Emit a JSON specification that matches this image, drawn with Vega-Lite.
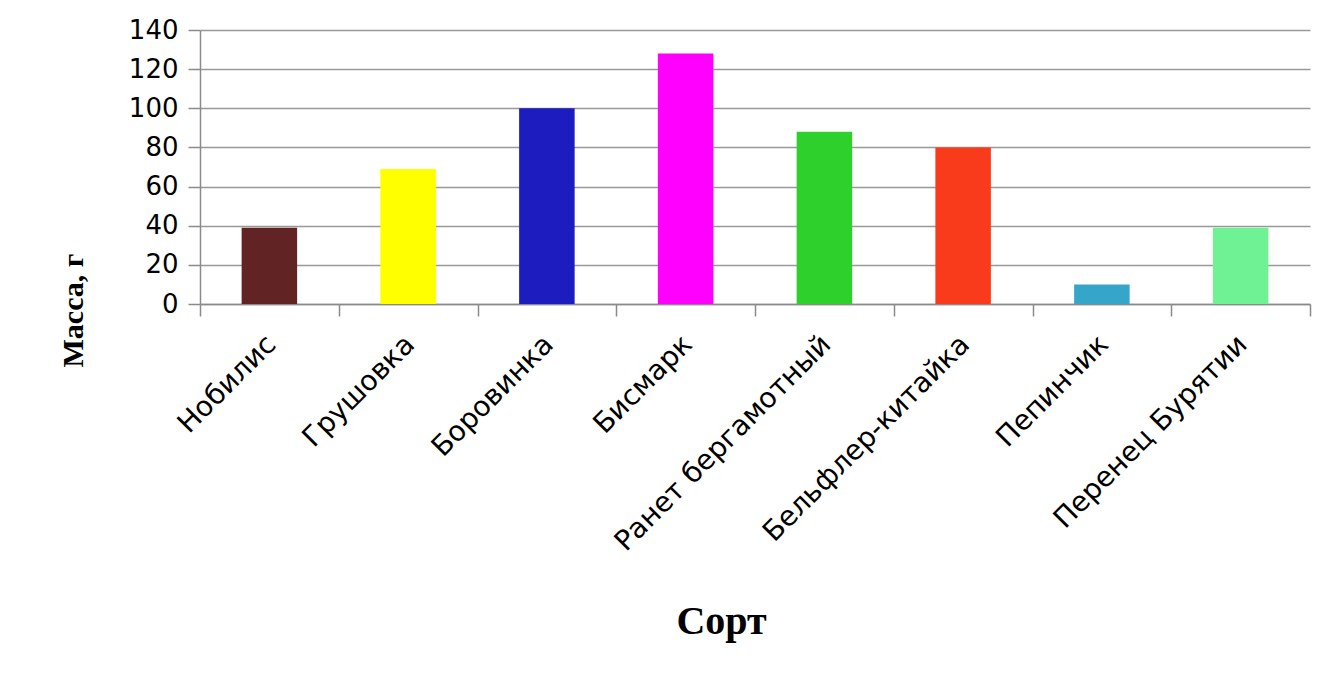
{
  "$schema": "https://vega.github.io/schema/vega-lite/v6.json",
  "width": 1110,
  "height": 274,
  "autosize": {"type": "none"},
  "padding": {"left": 200, "top": 30, "right": 17, "bottom": 379},
  "background": "white",
  "data": {
    "values": [
      {"sort": "Нобилис", "mass": 39, "color": "#612323"},
      {"sort": "Грушовка", "mass": 69, "color": "#ffff00"},
      {"sort": "Боровинка", "mass": 100, "color": "#1c1cbf"},
      {"sort": "Бисмарк", "mass": 128, "color": "#ff00ff"},
      {"sort": "Ранет бергамотный", "mass": 88, "color": "#2ed12b"},
      {"sort": "Бельфлер-китайка", "mass": 80, "color": "#f93b1c"},
      {"sort": "Пепинчик", "mass": 10, "color": "#35a6c9"},
      {"sort": "Перенец Бурятии", "mass": 39, "color": "#6ef294"}
    ]
  },
  "mark": {"type": "bar", "width": {"band": 0.4}},
  "encoding": {
    "x": {
      "field": "sort",
      "type": "nominal",
      "sort": null,
      "scale": {"paddingInner": 0, "paddingOuter": 0},
      "axis": {
        "title": "Сорт",
        "titleFont": "Liberation Serif",
        "titleFontSize": 40,
        "titleFontWeight": "bold",
        "titleColor": "black",
        "titlePadding": 97,
        "titleX": 521,
        "labelAngle": -45,
        "labelFont": "DejaVu Sans",
        "labelFontSize": 28,
        "labelColor": "black",
        "labelPadding": 14,
        "labelOffset": -8,
        "labelLimit": 0,
        "labelOverlap": false,
        "tickBand": "extent",
        "tickSize": 12,
        "tickColor": "#8a8a8a",
        "tickWidth": 1.5,
        "domainColor": "#8a8a8a",
        "domainWidth": 1.5,
        "grid": false
      }
    },
    "y": {
      "field": "mass",
      "type": "quantitative",
      "scale": {"domain": [0, 140], "nice": false},
      "axis": {
        "title": "Масса, г",
        "titleFont": "Liberation Serif",
        "titleFontSize": 30,
        "titleFontWeight": "bold",
        "titleColor": "black",
        "titleY": 280,
        "titleX": -112,
        "values": [0, 20, 40, 60, 80, 100, 120, 140],
        "labelFont": "DejaVu Sans",
        "labelFontSize": 26,
        "labelColor": "black",
        "labelPadding": 10,
        "tickSize": 12,
        "tickColor": "#8a8a8a",
        "tickWidth": 1.5,
        "domainColor": "#8a8a8a",
        "domainWidth": 1.5,
        "grid": true,
        "gridColor": "#999999",
        "gridWidth": 1.5
      }
    },
    "color": {"field": "color", "type": "nominal", "scale": null, "legend": null}
  },
  "config": {"view": {"stroke": null}}
}
